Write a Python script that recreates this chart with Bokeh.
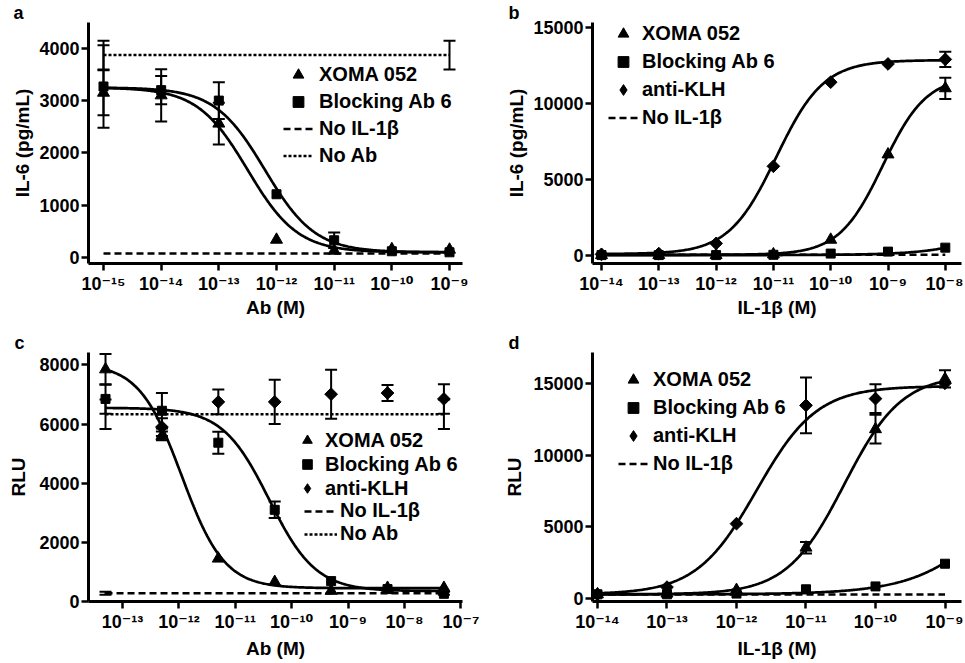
import numpy as np
from bokeh.plotting import figure
from bokeh.models import Range1d, FixedTicker, CustomJSTickFormatter, Legend, LegendItem, Title
from bokeh.layouts import column, row
from bokeh.core.properties import value
from bokeh.embed import file_html
from bokeh.resources import INLINE

FONT = "Liberation Sans"
TICKFONT = "Liberation Sans, DejaVu Sans"

# ---------------- Panel a : IL-6 vs Ab ----------------
a_conc = [1e-15, 1e-14, 1e-13, 1e-12, 1e-11, 1e-10, 1e-9]
a_xoma = [3150, 3100, 2560, 340, 130, 160, 150]
a_xoma_err = [430, 500, 400, 0, 0, 0, 0]
a_blk6 = [3270, 3200, 3000, 1210, 330, 120, 100]
a_blk6_err = [790, 270, 350, 0, 150, 0, 0]
a_ctrl_conc = [1e-15, 1e-9]
a_noil = [75, 75]
a_noab = [3870, 3870]
a_noab_err = [275, 275]
a_fit_xoma = [3250, 100, -12.5, 1.0]    # top, bottom, logIC50, hill
a_fit_blk6 = [3250, 100, -12.2, 1.0]
a_xticks = [1e-15, 1e-14, 1e-13, 1e-12, 1e-11, 1e-10, 1e-9]
a_yticks = [0, 1000, 2000, 3000, 4000]

# ---------------- Panel b : IL-6 vs IL-1b ----------------
b_conc = [1e-14, 1e-13, 1e-12, 1e-11, 1e-10, 1e-9, 1e-8]
b_xoma = [30, 30, 30, 80, 1040, 6650, 11000]
b_xoma_err = [0, 0, 0, 0, 0, 0, 700]
b_blk6 = [30, 30, 30, 50, 130, 260, 520]
b_aklh = [80, 130, 800, 5870, 11400, 12600, 12900]
b_aklh_err = [0, 0, 0, 0, 0, 0, 500]
b_ctrl_conc = [1e-14, 1e-8]
b_noil = [60, 60]
b_fit_xoma = [11800, 50, -9.09, 1.14]   # top, bottom, logEC50, hill
b_fit_blk6 = [12800, 30, -6.0, 0.7]
b_fit_aklh = [12850, 100, -10.95, 1.05]
b_xticks = [1e-14, 1e-13, 1e-12, 1e-11, 1e-10, 1e-9, 1e-8]
b_yticks = [0, 5000, 10000, 15000]

# ---------------- Panel c : RLU vs Ab ----------------
c_conc = [5e-14, 5e-13, 5e-12, 5e-11, 5e-10, 5e-9, 5e-8]
c_xoma = [7850, 5600, 1450, 660, 360, 460, 460]
c_xoma_err = [520, 150, 0, 0, 0, 0, 0]
c_blk6 = [6850, 6450, 5370, 3100, 690, 420, 260]
c_blk6_err = [500, 600, 370, 280, 0, 0, 0]
c_aklh_conc = [5e-13, 5e-12, 5e-11, 5e-10, 5e-9, 5e-8]
c_aklh = [5900, 6750, 6750, 7010, 7050, 6850]
c_aklh_err = [300, 420, 750, 830, 270, 500]
c_ctrl_conc = [5e-14, 5e-8]
c_noil = [280, 280]
c_noil_err = [50, 50]
c_noab = [6330, 6330]
c_noab_err = [500, 500]
c_fit_xoma = [8050, 450, -11.95, 1.15]  # top, bottom, logIC50, hill
c_fit_blk6 = [6550, 350, -10.4, 1.05]
c_xticks = [1e-13, 1e-12, 1e-11, 1e-10, 1e-9, 1e-8, 1e-7]
c_yticks = [0, 2000, 4000, 6000, 8000]

# ---------------- Panel d : RLU vs IL-1b ----------------
d_conc = [1e-14, 1e-13, 1e-12, 1e-11, 1e-10, 1e-9]
d_xoma = [300, 350, 600, 3550, 11800, 15300]
d_xoma_err = [0, 0, 0, 400, 1000, 600]
d_blk6 = [300, 300, 350, 650, 850, 2430]
d_aklh = [300, 800, 5220, 13460, 13930, 15000]
d_aklh_err = [0, 0, 0, 1950, 1000, 0]
d_ctrl_conc = [1e-14, 1e-9]
d_noil = [290, 290]
d_fit_xoma = [15600, 300, -10.45, 1.05]  # top, bottom, logEC50, hill
d_fit_blk6 = [15600, 300, -7.9, 0.7]
d_fit_aklh = [14800, 300, -11.71, 1.0]
d_xticks = [1e-14, 1e-13, 1e-12, 1e-11, 1e-10, 1e-9]
d_yticks = [0, 5000, 10000, 15000]

SUP = CustomJSTickFormatter(code=r"""
const e = Math.round(Math.log10(tick));
const m = {'-':'\u207B','0':'\u2070','1':'\u00B9','2':'\u00B2','3':'\u00B3','4':'\u2074',
           '5':'\u2075','6':'\u2076','7':'\u2077','8':'\u2078','9':'\u2079'};
return '10' + String(e).split('').map(c => m[c]).join('');
""")


class Geom:
    """figure box and frame box in page pixels, plus axis ranges"""
    def __init__(self, fig_left, fig_top, w, h, fl, ft, fr, fb, xr, yr):
        self.fig_left, self.fig_top, self.w, self.h = fig_left, fig_top, w, h
        self.fl, self.ft, self.fr, self.fb = fl, ft, fr, fb
        self.xr, self.yr = xr, yr


def make_fig(g, xticks, yticks, xlabel, ylabel, xlab_sd, ylab_sd, letter, letter_left):
    p = figure(width=g.w, height=g.h, x_axis_type="log",
               x_range=Range1d(10 ** g.xr[0], 10 ** g.xr[1]),
               y_range=Range1d(g.yr[0], g.yr[1]),
               output_backend="svg", toolbar_location=None,
               min_border_left=g.fl - g.fig_left,
               min_border_right=g.fig_left + g.w - g.fr,
               min_border_top=g.ft - g.fig_top,
               min_border_bottom=g.fig_top + g.h - g.fb)
    p.xgrid.visible = False
    p.ygrid.visible = False
    p.outline_line_color = None
    p.background_fill_color = "white"
    p.xaxis.ticker = FixedTicker(ticks=xticks)
    p.yaxis.ticker = FixedTicker(ticks=yticks)
    p.xaxis.formatter = SUP
    for ax in (p.xaxis, p.yaxis):
        ax.axis_line_width = 3
        ax.major_tick_line_width = 2.5
        ax.major_tick_in = 0
        ax.major_tick_out = 7
        ax.minor_tick_in = 0
        ax.minor_tick_out = 0
        ax.major_label_text_font = TICKFONT
        ax.major_label_text_font_size = "18px"
        ax.major_label_text_font_style = "bold"
        ax.major_label_text_color = "black"
        ax.axis_label_text_font = FONT
        ax.axis_label_text_font_size = "19px"
        ax.axis_label_text_font_style = "bold"
        ax.axis_label_text_color = "black"
    p.yaxis.major_label_standoff = 2
    p.xaxis.major_label_standoff = 3
    p.xaxis.axis_label = xlabel
    p.yaxis.axis_label = ylabel
    p.xaxis.axis_label_standoff = xlab_sd
    p.yaxis.axis_label_standoff = ylab_sd
    p.add_layout(Title(text=letter, align="left", offset=letter_left - g.fl, standoff=0,
                       text_font=FONT, text_font_size="18px", text_font_style="bold",
                       text_color="black"), "above")
    return p


def curve(p, conc, fit, rising):
    top, bottom, mid, hill = fit
    lx = np.linspace(np.log10(min(conc)), np.log10(max(conc)), 300)
    s = 1.0 if rising else -1.0
    y = bottom + (top - bottom) / (1.0 + 10 ** (s * hill * (mid - lx)))
    return p.line(10 ** lx, y, line_color="black", line_width=2.7)


def errbars(p, conc, vals, errs):
    xs = [c for c, e in zip(conc, errs) if e > 0]
    lo = [v - e for v, e in zip(vals, errs) if e > 0]
    hi = [v + e for v, e in zip(vals, errs) if e > 0]
    if not xs:
        return
    p.segment(x0=xs, y0=lo, x1=xs, y1=hi, line_color="black", line_width=2)
    p.scatter(xs + xs, lo + hi, marker="dash", size=12, line_color="black", line_width=2)


def pts(p, conc, vals, marker):
    if marker == "diamond":
        p.scatter(conc, vals, marker="square", angle=np.pi / 4, size=9,
                  fill_color="black", line_color="black")
        # legend proxy drawn on the last point, hidden inside the rotated square
        return p.scatter(conc[-1:], vals[-1:], marker="diamond", size=11,
                         fill_color="black", line_color="black")
    size = {"triangle": 12, "square": 9}[marker]
    return p.scatter(conc, vals, marker=marker, size=size,
                     fill_color="black", line_color="black")


def dashed(p, conc, vals, kind):
    dash = "7 4" if kind == "noil" else "3 2"
    return p.line(conc, vals, line_color="black", line_width=2.5, line_dash=dash)


def legend(p, items, loc, gw, rowh, spacing, standoff):
    lg = Legend(items=[LegendItem(label=value(t), renderers=[r]) for t, r in items],
                location=loc, orientation="vertical",
                border_line_color=None, background_fill_alpha=0,
                padding=0, margin=0, spacing=spacing,
                glyph_width=gw, glyph_height=rowh, label_height=rowh,
                label_standoff=standoff,
                label_text_font=FONT, label_text_font_size="20px",
                label_text_font_style="bold", label_text_color="black",
                label_text_baseline="middle")
    p.add_layout(lg)


# page geometry (page pixels)
ga = Geom(0, 0, 480, 330, 88, 20, 462, 263, (-15.2601, -8.7746), (-114, 4493))
gb = Geom(480, 0, 483, 330, 592, 20, 961, 263, (-14.1571, -7.7173), (-522, 15326))
gc = Geom(0, 330, 480, 331, 88, 351, 462, 604, (-13.6028, -6.9716), (0, 8420))
gd = Geom(480, 330, 483, 331, 592, 351, 961, 604, (-14.0719, -8.7626), (-201, 17143))

# ---- a ----
pa = make_fig(ga, a_xticks, a_yticks, "Ab (M)", "IL-6 (pg/mL)", 0, 3, "a", 13)
curve(pa, a_conc, a_fit_xoma, False)
curve(pa, a_conc, a_fit_blk6, False)
ra_noil = dashed(pa, a_ctrl_conc, a_noil, "noil")
ra_noab = dashed(pa, a_ctrl_conc, a_noab, "noab")
errbars(pa, a_ctrl_conc, a_noab, a_noab_err)
errbars(pa, a_conc, a_xoma, a_xoma_err)
errbars(pa, a_conc, a_blk6, a_blk6_err)
ra_x = pts(pa, a_conc, a_xoma, "triangle")
ra_b = pts(pa, a_conc, a_blk6, "square")
legend(pa, [("XOMA 052", ra_x), ("Blocking Ab 6", ra_b), ("No IL-1β", ra_noil), ("No Ab", ra_noab)],
       (195, 94), 30, 27, 0, 6)

# ---- b ----
pb = make_fig(gb, b_xticks, b_yticks, "IL-1β (M)", "IL-6 (pg/mL)", 0, 3, "b", 508)
curve(pb, b_conc, b_fit_aklh, True)
curve(pb, b_conc, b_fit_xoma, True)
curve(pb, b_conc, b_fit_blk6, True)
rb_noil = dashed(pb, b_ctrl_conc, b_noil, "noil")
errbars(pb, b_conc, b_xoma, b_xoma_err)
errbars(pb, b_conc, b_aklh, b_aklh_err)
rb_x = pts(pb, b_conc, b_xoma, "triangle")
rb_b = pts(pb, b_conc, b_blk6, "square")
rb_k = pts(pb, b_conc, b_aklh, "diamond")
legend(pb, [("XOMA 052", rb_x), ("Blocking Ab 6", rb_b), ("anti-KLH", rb_k), ("No IL-1β", rb_noil)],
       (16, 132), 30, 27, 1, 4)

# ---- c ----
pc = make_fig(gc, c_xticks, c_yticks, "Ab (M)", "RLU", 3, 7, "c", 14)
curve(pc, c_conc, c_fit_xoma, False)
curve(pc, c_conc, c_fit_blk6, False)
rc_noil = dashed(pc, c_ctrl_conc, c_noil, "noil")
rc_noab = dashed(pc, c_ctrl_conc, c_noab, "noab")
errbars(pc, c_ctrl_conc, c_noil, c_noil_err)
errbars(pc, c_ctrl_conc, c_noab, c_noab_err)
errbars(pc, c_conc, c_xoma, c_xoma_err)
errbars(pc, c_conc, c_blk6, c_blk6_err)
errbars(pc, c_aklh_conc, c_aklh, c_aklh_err)
rc_x = pts(pc, c_conc, c_xoma, "triangle")
rc_b = pts(pc, c_conc, c_blk6, "square")
rc_k = pts(pc, c_aklh_conc, c_aklh, "diamond")
legend(pc, [("XOMA 052", rc_x), ("Blocking Ab 6", rc_b), ("anti-KLH", rc_k)],
       (206, 101), 26, 24, 0, 5)
legend(pc, [("No IL-1β", rc_noil), ("No Ab", rc_noab)],
       (216, 56), 33, 22, 0, 3)

# ---- d ----
pd_ = make_fig(gd, d_xticks, d_yticks, "IL-1β (M)", "RLU", 3, 5, "d", 508)
curve(pd_, d_conc, d_fit_aklh, True)
curve(pd_, d_conc, d_fit_xoma, True)
curve(pd_, d_conc, d_fit_blk6, True)
rd_noil = dashed(pd_, d_ctrl_conc, d_noil, "noil")
errbars(pd_, d_conc, d_xoma, d_xoma_err)
errbars(pd_, d_conc, d_aklh, d_aklh_err)
rd_x = pts(pd_, d_conc, d_xoma, "triangle")
rd_b = pts(pd_, d_conc, d_blk6, "square")
rd_k = pts(pd_, d_conc, d_aklh, "diamond")
legend(pd_, [("XOMA 052", rd_x), ("Blocking Ab 6", rd_b), ("anti-KLH", rd_k), ("No IL-1β", rd_noil)],
       (26, 124), 30, 27, 1, 5)

layout = column(row(pa, pb), row(pc, pd_))
open("out.html", "w", encoding="utf-8").write(file_html(layout, INLINE))
